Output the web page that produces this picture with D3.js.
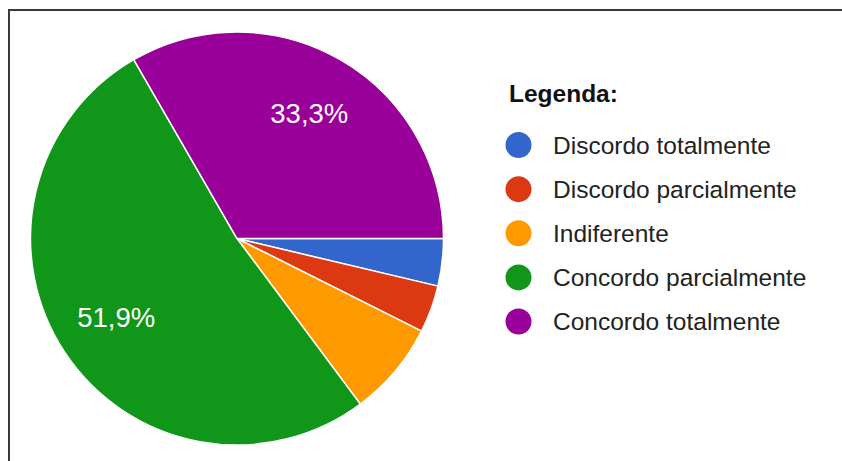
<!DOCTYPE html>
<html>
<head>
<meta charset="utf-8">
<script src="https://cdn.jsdelivr.net/npm/d3@7/dist/d3.min.js"></script>
<style>
  html, body { margin: 0; padding: 0; background: #fff; }
  svg { display: block; }
</style>
</head>
<body>
<svg id="chart" width="842" height="461"></svg>
<script>
// Response categories, counts (27 answers) and slice colours
const categories = [
  "Discordo totalmente",
  "Discordo parcialmente",
  "Indiferente",
  "Concordo parcialmente",
  "Concordo totalmente"
];
const counts = [1, 1, 2, 14, 9];
const colors = ["#3366cc", "#dc3912", "#ff9900", "#109618", "#990099"];
const legendTitle = "Legenda:";

const svg = d3.select("#chart");
const W = 842, H = 461;

// Frame around the chart area
svg.append("path")
  .attr("d", `M9,${H + 2} L9,10 L${W + 2},10`)
  .attr("fill", "none")
  .attr("stroke", "#3a3a3a")
  .attr("stroke-width", 2);

const cx = 237, cy = 238.5, radius = 206.5;
const total = d3.sum(counts);
const data = categories.map((c, i) => ({ name: c, value: counts[i], color: colors[i] }));

// Pie starts at 3 o'clock and runs clockwise
const pie = d3.pie()
  .value(d => d.value)
  .sort(null)
  .startAngle(Math.PI / 2)
  .endAngle(Math.PI / 2 + 2 * Math.PI);

const arc = d3.arc().innerRadius(0).outerRadius(radius);
const labelArc = d3.arc().innerRadius(radius * 0.7).outerRadius(radius * 0.7);

const g = svg.append("g").attr("transform", `translate(${cx},${cy})`);
const arcs = pie(data);

g.selectAll("path.slice")
  .data(arcs)
  .join("path")
  .attr("class", "slice")
  .attr("d", arc)
  .attr("fill", d => d.data.color)
  .attr("stroke", "#ffffff")
  .attr("stroke-width", 1.5)
  .attr("stroke-linejoin", "round");

// Percentage labels on the larger slices
const fmt = v => (v * 100).toFixed(1).replace(".", ",") + "%";
g.selectAll("text.pct")
  .data(arcs.filter(d => d.data.value / total > 0.1))
  .join("text")
  .attr("class", "pct")
  .attr("transform", d => `translate(${labelArc.centroid(d)})`)
  .attr("text-anchor", "middle")
  .attr("dominant-baseline", "central")
  .attr("font-family", "Liberation Sans, Arial, sans-serif")
  .attr("font-size", 27.5)
  .attr("fill", "#ffffff")
  .text(d => fmt(d.data.value / total));

// Legend
const legend = svg.append("g").attr("transform", "translate(509,0)");
legend.append("text")
  .attr("x", 0)
  .attr("y", 102)
  .attr("font-family", "Liberation Sans, Arial, sans-serif")
  .attr("font-weight", "bold")
  .attr("font-size", 24.5)
  .attr("fill", "#111")
  .text(legendTitle);

const rowY = d3.scalePoint()
  .domain(categories)
  .range([145, 321.5]);

const items = legend.selectAll("g.item")
  .data(data)
  .join("g")
  .attr("class", "item")
  .attr("transform", d => `translate(0,${rowY(d.name)})`);

items.append("circle")
  .attr("cx", 9.5)
  .attr("cy", 0)
  .attr("r", 13)
  .attr("fill", d => d.color);

items.append("text")
  .attr("x", 44)
  .attr("y", 0)
  .attr("dominant-baseline", "central")
  .attr("font-family", "Liberation Sans, Arial, sans-serif")
  .attr("font-size", 24.5)
  .attr("fill", "#222")
  .text(d => d.name);
</script>
</body>
</html>
